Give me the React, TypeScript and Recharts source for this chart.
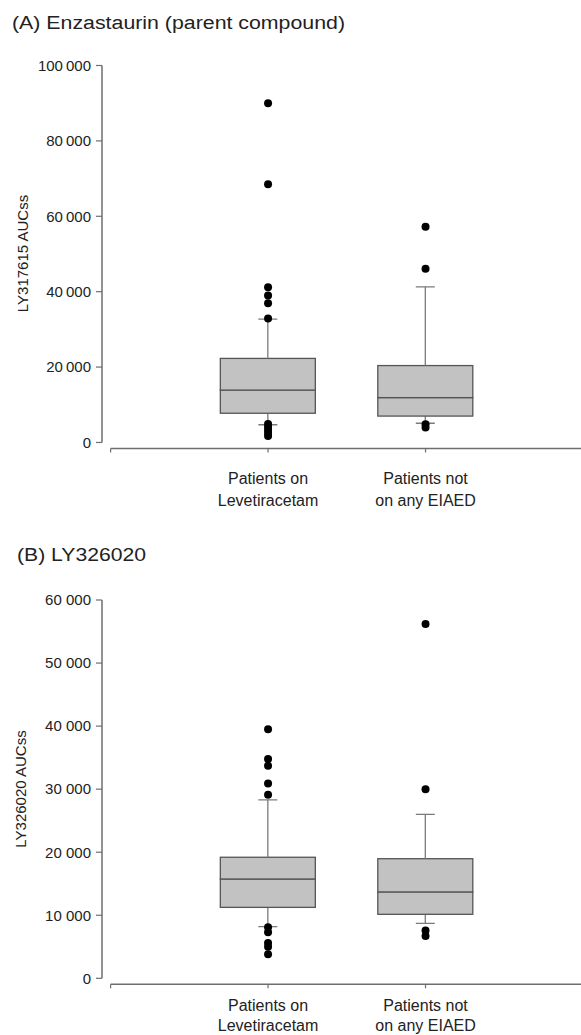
import React from "react";
import {
  ComposedChart,
  Bar,
  Scatter,
  XAxis,
  YAxis,
  ReferenceLine,
} from "recharts";

// ---------- data ----------
const categories = [
  ["Patients on", "Levetiracetam"],
  ["Patients not", "on any EIAED"],
];

// Panel A: Enzastaurin (LY317615) AUCss
const aLowWhisker = [4700, 5100];
const aQ1 = [7750, 7000];
const aMedian = [13900, 11900];
const aQ3 = [22300, 20400];
const aHighWhisker = [32700, 41300];
const aOutliersLev = [90000, 68500, 41200, 39000, 36900, 32900, 4900, 4100, 3300, 2500, 1700];
const aOutliersNon = [57200, 46100, 4800, 4000];
const aYTicks = [0, 20000, 40000, 60000, 80000, 100000];

// Panel B: LY326020 AUCss
const bLowWhisker = [8200, 8700];
const bQ1 = [11250, 10150];
const bMedian = [15750, 13700];
const bQ3 = [19200, 18970];
const bHighWhisker = [28300, 26000];
const bOutliersLev = [39500, 34800, 33700, 30900, 29100, 8100, 7300, 5600, 5000, 3800];
const bOutliersNon = [56200, 30000, 7600, 6700];
const bYTicks = [0, 10000, 20000, 30000, 40000, 50000, 60000];

const xTicks = [0, 1, 2, 3];

// ---------- helpers ----------
const buildRows = (lo: number[], q1: number[], med: number[], q3: number[], hi: number[]) =>
  categories.map((_, i) => ({
    x: i + 1,
    base: lo[i],
    lowW: q1[i] - lo[i],
    boxLow: med[i] - q1[i],
    boxHigh: q3[i] - med[i],
    highW: hi[i] - q3[i],
  }));

const buildOutliers = (lists: number[][]) =>
  lists.flatMap((vals, i) => vals.map((v) => ({ x: i + 1, y: v })));

const FONT = "'Liberation Sans', Arial, sans-serif";
const BOX_FILL = "#c2c2c2";
const BOX_STROKE = "#555555";
const WHISKER = "#7a7a7a";
const AXIS = "#6e6e6e";
const TEXT = "#222222";
const CAP = 19;

const EmptyShape = () => null;

const BoxShape = (props: any) => {
  const { x, y, width, height } = props;
  return (
    <rect x={x} y={y} width={width} height={height} fill={BOX_FILL} stroke={BOX_STROKE} strokeWidth={1.3} />
  );
};

const LowWhiskerShape = (props: any) => {
  const { x, y, width, height } = props;
  const cx = x + width / 2;
  return (
    <g stroke={WHISKER} strokeWidth={1.3}>
      <line x1={cx} x2={cx} y1={y} y2={y + height} />
      <line x1={cx - CAP / 2} x2={cx + CAP / 2} y1={y + height} y2={y + height} />
    </g>
  );
};

const HighWhiskerShape = (props: any) => {
  const { x, y, width, height } = props;
  const cx = x + width / 2;
  return (
    <g stroke={WHISKER} strokeWidth={1.3}>
      <line x1={cx} x2={cx} y1={y} y2={y + height} />
      <line x1={cx - CAP / 2} x2={cx + CAP / 2} y1={y} y2={y} />
    </g>
  );
};

const OutlierDot = (props: any) => {
  const { cx, cy } = props;
  if (cx == null || cy == null) return null;
  return <circle cx={cx} cy={cy} r={4} fill="#000" />;
};

const makeTick = (l1: number, l2: number) => (props: any) => {
  const { x, y, payload } = props;
  const lines = categories[payload.value - 1];
  if (!lines || !Number.isInteger(payload.value)) return null;
  return (
    <text textAnchor="middle" fontSize={16} fill={TEXT} fontFamily={FONT}>
      <tspan x={x} y={y + l1}>{lines[0]}</tspan>
      <tspan x={x} y={y + l2}>{lines[1]}</tspan>
    </text>
  );
};

type PanelProps = {
  rows: any[];
  outliers: { x: number; y: number }[];
  yMin: number;
  yMax: number;
  yTicks: number[];
  sep: string;
  height: number;
  marginTop: number;
  marginBottom: number;
  xAxisHeight: number;
  l1: number;
  l2: number;
};

const X_MIN = -0.0546;

const BoxPanel = (p: PanelProps) => {
  const fmt = (v: number) => (v === 0 ? "0" : `${v / 1000}${p.sep}000`);
  return (
    <ComposedChart
      width={583}
      height={p.height}
      data={p.rows}
      margin={{ top: p.marginTop, right: 0, bottom: p.marginBottom, left: 0 }}
    >
      <XAxis
        dataKey="x"
        type="number"
        domain={[X_MIN, 3]}
        ticks={xTicks}
        allowDataOverflow
        axisLine={false}
        tickLine={{ stroke: AXIS, strokeWidth: 1.2 }}
        tickSize={4}
        tickMargin={0}
        height={p.xAxisHeight}
        interval={0}
        tick={makeTick(p.l1, p.l2)}
      />
      <YAxis
        type="number"
        domain={[p.yMin, p.yMax]}
        ticks={p.yTicks}
        allowDataOverflow
        width={102}
        axisLine={false}
        tickLine={{ stroke: AXIS, strokeWidth: 1.2 }}
        tickSize={6}
        tickMargin={5}
        tickFormatter={fmt}
        tick={{ fontSize: 15, fill: TEXT, fontFamily: FONT }}
        interval={0}
      />
      <ReferenceLine
        segment={[{ x: X_MIN, y: 0 }, { x: X_MIN, y: p.yMax }]}
        stroke={AXIS}
        strokeWidth={1.5}
        ifOverflow="visible"
      />
      <ReferenceLine
        segment={[{ x: 0, y: p.yMin }, { x: 3, y: p.yMin }]}
        stroke={AXIS}
        strokeWidth={1.5}
        ifOverflow="visible"
      />
      <Bar dataKey="base" stackId="box" barSize={95} shape={EmptyShape} isAnimationActive={false} />
      <Bar dataKey="lowW" stackId="box" barSize={95} shape={LowWhiskerShape} isAnimationActive={false} />
      <Bar dataKey="boxLow" stackId="box" barSize={95} shape={BoxShape} isAnimationActive={false} />
      <Bar dataKey="boxHigh" stackId="box" barSize={95} shape={BoxShape} isAnimationActive={false} />
      <Bar dataKey="highW" stackId="box" barSize={95} shape={HighWhiskerShape} isAnimationActive={false} />
      <Scatter data={p.outliers} dataKey="y" shape={OutlierDot} isAnimationActive={false} />
    </ComposedChart>
  );
};

export default function App() {
  const rowsA = buildRows(aLowWhisker, aQ1, aMedian, aQ3, aHighWhisker);
  const rowsB = buildRows(bLowWhisker, bQ1, bMedian, bQ3, bHighWhisker);
  const outA = buildOutliers([aOutliersLev, aOutliersNon]);
  const outB = buildOutliers([bOutliersLev, bOutliersNon]);
  return (
    <div
      style={{
        position: "absolute",
        left: 0,
        top: 0,
        width: 581,
        height: 1035,
        overflow: "hidden",
        background: "#fff",
      }}
    >
      <div style={{ position: "absolute", left: 0, top: 0 }}>
        <BoxPanel
          rows={rowsA}
          outliers={outA}
          yMin={-1600}
          yMax={100000}
          yTicks={aYTicks}
          sep={"\u2009"}
          height={520}
          marginTop={65.5}
          marginBottom={11.5}
          xAxisHeight={60}
          l1={31.3}
          l2={53}
        />
      </div>
      <div style={{ position: "absolute", left: 0, top: 520 }}>
        <BoxPanel
          rows={rowsB}
          outliers={outB}
          yMin={-950}
          yMax={60000}
          yTicks={bYTicks}
          sep={" "}
          height={515}
          marginTop={80}
          marginBottom={5.7}
          xAxisHeight={45}
          l1={22.5}
          l2={43}
        />
      </div>
      <svg
        width={581}
        height={1035}
        style={{ position: "absolute", left: 0, top: 0, pointerEvents: "none" }}
        fontFamily={FONT}
        fill={TEXT}
      >
        <text x={12} y={28.5} fontSize={18} textLength={333} lengthAdjust="spacingAndGlyphs">
          (A) Enzastaurin (parent compound)
        </text>
        <text x={17} y={561} fontSize={18} textLength={129} lengthAdjust="spacingAndGlyphs">
          (B) LY326020
        </text>
        <text transform="translate(27.5,253.5) rotate(-90)" textAnchor="middle" fontSize={15}>
          LY317615 AUCss
        </text>
        <text transform="translate(25.5,789) rotate(-90)" textAnchor="middle" fontSize={15}>
          LY326020 AUCss
        </text>
      </svg>
    </div>
  );
}
